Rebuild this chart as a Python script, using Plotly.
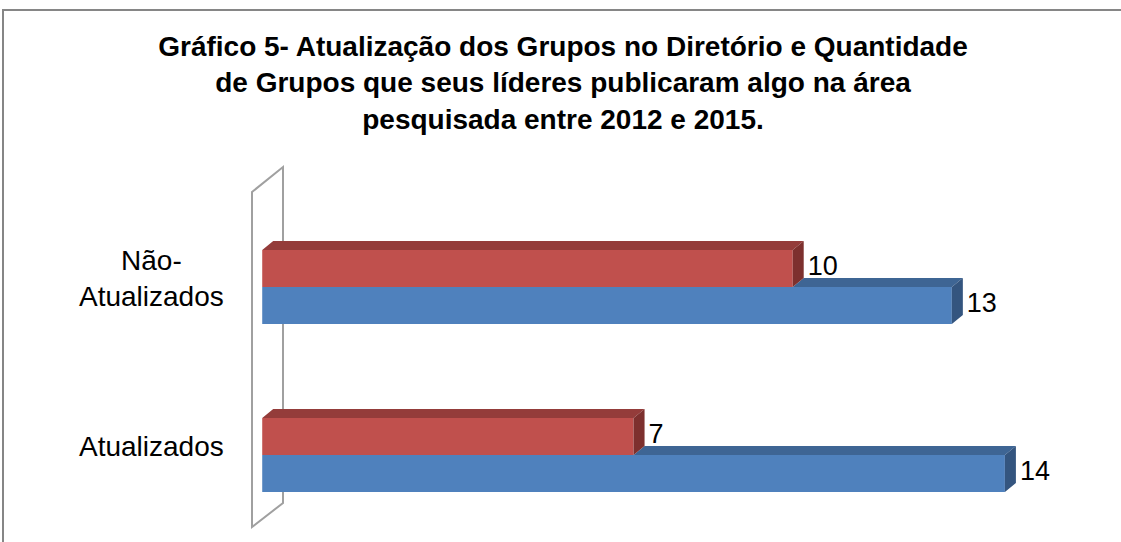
import plotly.graph_objects as go

# ---------------- data ----------------
categories = ["Atualizados", "Não-<br>Atualizados"]
blue_values = [14, 13]
red_values = [7, 10]
title_lines = [
    "Gráfico 5- Atualização dos Grupos no Diretório e Quantidade",
    "de Grupos que seus líderes publicaram algo na área",
    "pesquisada entre 2012 e 2015.",
]

# ---------------- layout constants ----------------
W, H = 1121, 542
L, R, T, B = 241, 10, 150, 10
XR = [-0.4, 16]
plot_w = W - L - R
plot_h = H - T - B
PX_X = plot_w / (XR[1] - XR[0])
PX_Y = 168.0           # pixels between category centres
Y0_PX = 455.0          # pixel row of first category centre
YR = [-(H - B - Y0_PX) / PX_Y, (Y0_PX - T) / PX_Y]

BAR_W = 37 / PX_Y
DX = 11 / PX_X
DY = 9 / PX_Y
LABEL_GAP = 4 / PX_X

BLUE = "#4F81BD"
BLUE_TOP = "#3E6594"
BLUE_SIDE = "#34557F"
RED = "#C0504D"
RED_TOP = "#943C3A"
RED_SIDE = "#7D302E"
FONT = "Liberation Sans, Arial, sans-serif"

pos = list(range(len(categories)))


def py_to_y(py):
    return (Y0_PX - py) / PX_Y


def px_to_x(px):
    return XR[0] + (px - L) / PX_X


def poly_trace(polys, color):
    xs, ys = [], []
    for poly in polys:
        for (a, b) in poly:
            xs.append(a)
            ys.append(b)
        xs.append(poly[0][0]); ys.append(poly[0][1])
        xs.append(None); ys.append(None)
    return go.Scatter(x=xs, y=ys, mode="lines", fill="toself", fillcolor=color,
                      line=dict(width=0, color=color), hoverinfo="skip",
                      showlegend=False)


fig = go.Figure()

# front faces (bars)
fig.add_trace(go.Bar(y=pos, x=blue_values, orientation="h", base=0,
                     width=BAR_W, offset=-BAR_W, marker=dict(color=BLUE, line=dict(width=0)),
                     showlegend=False, name="Série 1"))
fig.add_trace(go.Bar(y=pos, x=red_values, orientation="h", base=0,
                     width=BAR_W, offset=0, marker=dict(color=RED, line=dict(width=0)),
                     showlegend=False, name="Série 2"))

# 3D faces
blue_tops, blue_sides, red_tops, red_sides = [], [], [], []
for p, bv, rv in zip(pos, blue_values, red_values):
    if rv < bv:
        blue_tops.append([(rv, p), (bv, p), (bv + DX, p + DY), (rv + DX, p + DY)])
    blue_sides.append([(bv, p - BAR_W), (bv, p), (bv + DX, p + DY), (bv + DX, p - BAR_W + DY)])
    red_tops.append([(0, p + BAR_W), (rv, p + BAR_W), (rv + DX, p + BAR_W + DY), (DX, p + BAR_W + DY)])
    red_sides.append([(rv, p), (rv, p + BAR_W), (rv + DX, p + BAR_W + DY), (rv + DX, p + DY)])

fig.add_trace(poly_trace(blue_tops, BLUE_TOP))
fig.add_trace(poly_trace(blue_sides, BLUE_SIDE))
fig.add_trace(poly_trace(red_tops, RED_TOP))
fig.add_trace(poly_trace(red_sides, RED_SIDE))

# data labels
fig.add_trace(go.Scatter(x=[v + DX + LABEL_GAP for v in blue_values], y=[p - BAR_W / 2 for p in pos],
                         mode="text", text=[str(v) for v in blue_values],
                         textposition="middle right",
                         textfont=dict(family=FONT, size=27, color="#000000"),
                         cliponaxis=False, showlegend=False, hoverinfo="skip"))
fig.add_trace(go.Scatter(x=[v + DX + LABEL_GAP for v in red_values], y=[p + BAR_W / 2 for p in pos],
                         mode="text", text=[str(v) for v in red_values],
                         textposition="middle right",
                         textfont=dict(family=FONT, size=27, color="#000000"),
                         cliponaxis=False, showlegend=False, hoverinfo="skip"))

# wall (3D back wall outline)
wx0, wx1 = px_to_x(252), px_to_x(283)
wall_path = (f"M {wx0},{py_to_y(192)} L {wx1},{py_to_y(167)} "
             f"L {wx1},{py_to_y(503)} L {wx0},{py_to_y(527)} Z")
shapes = [dict(type="path", path=wall_path, xref="x", yref="y", layer="below",
               line=dict(color="#A0A0A0", width=2), fillcolor="rgba(0,0,0,0)")]

# chart border
shapes.append(dict(type="rect", xref="paper", yref="paper",
                   x0=(3 - L) / plot_w, x1=(W + 10 - L) / plot_w,
                   y0=(H - B - (H + 10)) / plot_h, y1=(H - B - 10) / plot_h,
                   line=dict(color="#868686", width=2), fillcolor="rgba(0,0,0,0)",
                   layer="above"))

annotations = []
for p, c in zip(pos, categories):
    annotations.append(dict(x=(151 - L) / plot_w, xref="paper", y=p, yref="y",
                            yshift=9, text=c, showarrow=False, xanchor="center",
                            yanchor="middle", align="center",
                            font=dict(family=FONT, size=28, color="#000000")))

fig.update_layout(
    width=W, height=H,
    margin=dict(l=L, r=R, t=T, b=B, pad=0),
    paper_bgcolor="#FFFFFF", plot_bgcolor="#FFFFFF",
    barmode="overlay",
    showlegend=False,
    title=dict(text="<br>".join(f"<b>{t}</b>" for t in title_lines),
               x=563 / W, xref="container", xanchor="center",
               y=1 - 56 / H, yref="container", yanchor="top",
               font=dict(family=FONT, size=28, color="#000000")),
    xaxis=dict(range=XR, visible=False, fixedrange=True),
    yaxis=dict(range=YR, visible=False, fixedrange=True),
    shapes=shapes,
    annotations=annotations,
)

fig.write_html("out.html")
